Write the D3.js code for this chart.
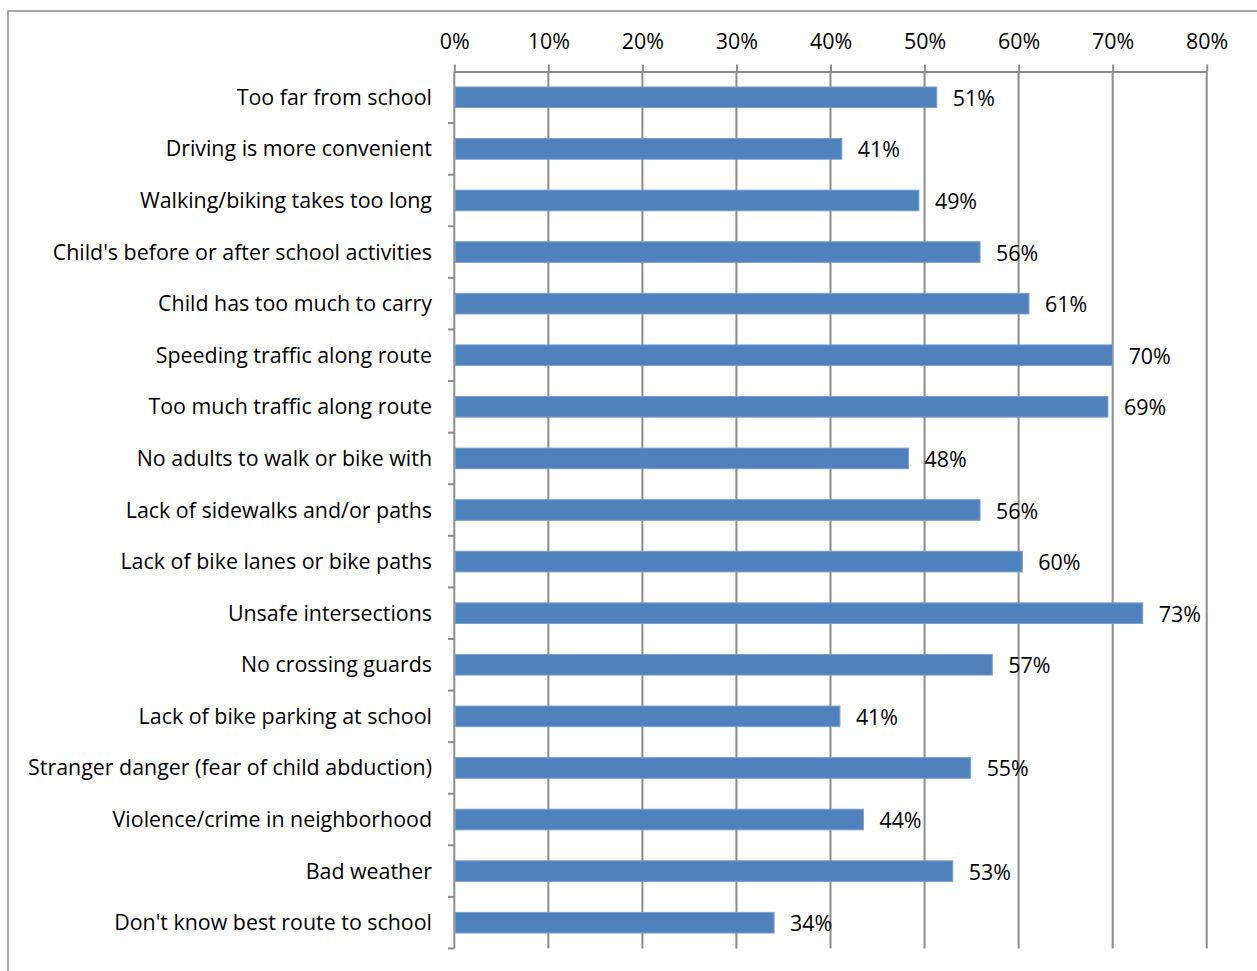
<!DOCTYPE html>
<html><head><meta charset="utf-8">
<script src="https://cdn.jsdelivr.net/npm/d3@7"></script>
<style>html,body{margin:0;padding:0;background:#fff;}svg{display:block;}</style>
</head><body>
<script>
const categories = ["Too far from school","Driving is more convenient","Walking/biking takes too long","Child's before or after school activities","Child has too much to carry","Speeding traffic along route","Too much traffic along route","No adults to walk or bike with","Lack of sidewalks and/or paths","Lack of bike lanes or bike paths","Unsafe intersections","No crossing guards","Lack of bike parking at school","Stranger danger (fear of child abduction)","Violence/crime in neighborhood","Bad weather","Don't know best route to school"];
const values = [51.3,41.2,49.4,55.9,61.1,70.0,69.5,48.3,55.9,60.4,73.2,57.2,41.0,54.9,43.5,53.0,34.0];
const valueLabels = ["51%","41%","49%","56%","61%","70%","69%","48%","56%","60%","73%","57%","41%","55%","44%","53%","34%"];
const tickValues = [0,10,20,30,40,50,60,70,80];
const tickLabels = ["0%","10%","20%","30%","40%","50%","60%","70%","80%"];

const W = 1257, H = 971;
const font = "'Open Sans', sans-serif";
const fs = 21.4;
const svg = d3.select("body").append("svg").attr("width", W).attr("height", H);

// outer border
svg.append("rect").attr("x", 8).attr("y", 11).attr("width", 1260).attr("height", 980)
  .attr("fill", "none").attr("stroke", "#8c8c8c").attr("stroke-width", 1.5);

const x = d3.scaleLinear().domain([0, 80]).range([454.3, 1206.7]);
const y = d3.scaleBand().domain(categories).range([71.5, 948.5]).paddingInner(0.6).paddingOuter(0.3);
const yb = d3.scaleBand().domain(categories).range([71.5, 948.5]);

const gridColor = "#8c8c8c";
// vertical gridlines
svg.append("g").selectAll("line").data(tickValues.slice(1)).join("line")
  .attr("x1", d => x(d)).attr("x2", d => x(d)).attr("y1", 71.5).attr("y2", 948.5)
  .attr("stroke", gridColor).attr("stroke-width", 2);

// top axis
const xAxis = d3.axisTop(x).tickValues(tickValues).tickFormat((d, i) => tickLabels[i]).tickSize(7).tickSizeOuter(0);
const gx = svg.append("g").attr("transform", "translate(0,71.5)").call(xAxis);
gx.select(".domain").attr("stroke", gridColor).attr("stroke-width", 2);
gx.selectAll(".tick line").attr("stroke", gridColor).attr("stroke-width", 2);
gx.selectAll(".tick text").attr("font-family", font).attr("font-size", fs).attr("fill", "#000").attr("y", -22.5).attr("dy", 0);

// left axis line and tick marks at band boundaries
svg.append("line").attr("x1", 454.3).attr("x2", 454.3).attr("y1", 71.5).attr("y2", 948.5)
  .attr("stroke", gridColor).attr("stroke-width", 2);
const bounds = categories.map(c => yb(c) + yb.bandwidth());
svg.append("g").selectAll("line").data(bounds).join("line")
  .attr("x1", 448).attr("x2", 454.3).attr("y1", d => d).attr("y2", d => d)
  .attr("stroke", gridColor).attr("stroke-width", 2);

// bars
svg.append("g").selectAll("rect").data(values).join("rect")
  .attr("x", x(0) + 1).attr("y", (d, i) => y(categories[i]))
  .attr("width", d => x(d) - x(0) - 1).attr("height", y.bandwidth())
  .attr("fill", "#4f81bd").attr("stroke", "#7b9fcf").attr("stroke-width", 1);

// category labels
svg.append("g").selectAll("text").data(categories).join("text")
  .attr("x", 432).attr("y", d => yb(d) + yb.bandwidth() / 2 + 7.5)
  .attr("text-anchor", "end").attr("font-family", font).attr("font-size", fs).attr("fill", "#000")
  .text(d => d);

// value labels
svg.append("g").selectAll("text").data(values).join("text")
  .attr("x", d => x(d) + 16).attr("y", (d, i) => yb(categories[i]) + yb.bandwidth() / 2 + 8.5)
  .attr("font-family", font).attr("font-size", fs).attr("fill", "#000")
  .text((d, i) => valueLabels[i]);
</script>
</body></html>
